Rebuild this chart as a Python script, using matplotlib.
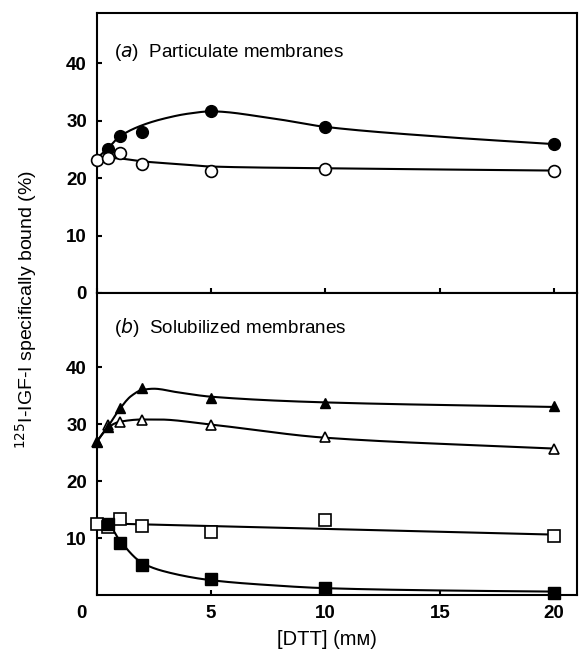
import numpy as np
import matplotlib
matplotlib.use("Agg")
import matplotlib.pyplot as plt
import matplotlib.transforms as mtransforms

plt.rcParams['font.family'] = ['Liberation Sans', 'DejaVu Sans']

# ---- data ----
# (a) particulate membranes
a_filled_x = [0.5, 1, 2, 5, 10, 20]
a_filled_y = [25.0, 27.4, 28.0, 31.6, 28.8, 25.9]
a_open_x = [0, 0.5, 1, 2, 5, 10, 20]
a_open_y = [23.2, 23.4, 24.4, 22.5, 21.3, 21.6, 21.2]

# fitted curves drawn by hand in the original (nodes)
a_filled_fit_x = [0, 0.5, 1, 2, 3, 4, 5, 7.5, 10, 15, 20]
a_filled_fit_y = [23.4, 25.2, 27.2, 29.2, 30.4, 31.2, 31.6, 30.5, 28.9, 27.2, 25.9]
a_open_fit_x = [0, 0.5, 1, 2, 4, 5, 10, 20]
a_open_fit_y = [23.3, 23.5, 23.4, 22.9, 22.3, 22.0, 21.7, 21.3]

# (b) solubilized membranes
b_tri_f_x = [0, 0.5, 1, 2, 5, 10, 20]
b_tri_f_y = [26.9, 29.5, 32.8, 36.3, 34.5, 33.7, 33.1]
b_tri_o_x = [0, 0.5, 1, 2, 5, 10, 20]
b_tri_o_y = [26.9, 29.8, 30.4, 30.7, 29.9, 27.7, 25.7]
b_sq_o_x = [0, 0.5, 1, 2, 5, 10, 20]
b_sq_o_y = [12.5, 11.9, 13.3, 12.1, 11.1, 13.2, 10.4]
b_sq_f_x = [0.5, 1, 2, 5, 10, 20]
b_sq_f_y = [12.5, 9.2, 5.3, 2.8, 1.2, 0.4]

b_tri_f_fit_x = [0, 0.5, 1, 1.5, 2, 2.5, 3.5, 5, 10, 20]
b_tri_f_fit_y = [26.9, 29.6, 32.6, 34.9, 36.0, 36.2, 35.6, 34.8, 33.8, 33.0]
b_tri_o_fit_x = [0, 0.5, 1, 2, 2.7, 5, 10, 20]
b_tri_o_fit_y = [26.9, 29.4, 30.4, 30.8, 30.8, 29.9, 27.6, 25.7]
b_sq_o_fit_x = [0, 10, 20]
b_sq_o_fit_y = [12.6, 11.6, 10.6]
b_sq_f_fit_x = [0, 0.5, 1, 2, 3, 5, 7.5, 10, 15, 20]
b_sq_f_fit_y = [12.7, 12.4, 9.6, 5.6, 4.1, 2.6, 1.75, 1.2, 0.8, 0.6]

xticks = [0, 5, 10, 15, 20]
a_yticks = [0, 10, 20, 30, 40]
b_yticks = [10, 20, 30, 40]


def smooth(xs, ys, n=300):
    """monotone cubic (pchip) through the read-off curve nodes"""
    xs, ys = np.asarray(xs, float), np.asarray(ys, float)
    h = np.diff(xs)
    d = np.diff(ys) / h
    m = np.zeros_like(ys)
    m[0], m[-1] = d[0], d[-1]
    for i in range(1, len(xs) - 1):
        if d[i - 1] * d[i] > 0:
            w1 = 2 * h[i] + h[i - 1]
            w2 = h[i] + 2 * h[i - 1]
            m[i] = (w1 + w2) / (w1 / d[i - 1] + w2 / d[i])
    xx = np.linspace(xs[0], xs[-1], n)
    k = np.clip(np.searchsorted(xs, xx) - 1, 0, len(h) - 1)
    t = (xx - xs[k]) / h[k]
    h00 = 2 * t**3 - 3 * t**2 + 1
    h10 = t**3 - 2 * t**2 + t
    h01 = -2 * t**3 + 3 * t**2
    h11 = t**3 - t**2
    yy = h00 * ys[k] + h10 * h[k] * m[k] + h01 * ys[k + 1] + h11 * h[k] * m[k + 1]
    return xx, yy


fig = plt.figure(figsize=(5.79, 6.54), dpi=100)
L, R = 0.167, 0.9965
ax_a = fig.add_axes([L, 0.552, R - L, 0.980 - 0.552])
ax_b = fig.add_axes([L, 0.0902, R - L, 0.552 - 0.0902])

lw = 1.5
ms = 8.5
tick_fs = 13.5
for ax in (ax_a, ax_b):
    ax.set_xlim(0, 21)
    for s in ax.spines.values():
        s.set_linewidth(1.5)
    ax.set_xticks(xticks)
    ax.tick_params(direction='in', length=3.5, width=1.5, labelsize=tick_fs, pad=7)

# panel (a)
ax_a.set_ylim(0, 48.7)
ax_a.set_yticks(a_yticks)
ax_a.set_yticklabels([str(v) for v in a_yticks], fontweight='bold')
ax_a.tick_params(axis='x', labelbottom=False)
ax_a.plot(*smooth(a_filled_fit_x, a_filled_fit_y), color='black', lw=lw, zorder=2)
ax_a.plot(*smooth(a_open_fit_x, a_open_fit_y), color='black', lw=lw, zorder=2)
ax_a.plot(a_filled_x, a_filled_y, 'o', ms=ms, mfc='black', mec='black', zorder=3, clip_on=False)
ax_a.plot(a_open_x, a_open_y, 'o', ms=ms, mfc='white', mec='black', mew=1.2, zorder=4, clip_on=False)
ax_a.text(0.035, 0.86, r'($\it{a}$)  Particulate membranes', transform=ax_a.transAxes,
          fontsize=13.6, va='center', ha='left')

# panel (b)
ax_b.set_ylim(0, 53)
ax_b.set_yticks(b_yticks)
ax_b.set_yticklabels([str(v) for v in b_yticks], fontweight='bold')
ax_b.set_xticklabels([str(v) for v in xticks], fontweight='bold')
# the "0" sits at the corner, left of the axis
shift = mtransforms.ScaledTranslation(-15 / 100, 0, fig.dpi_scale_trans)
first = ax_b.get_xticklabels()[0]
first.set_transform(first.get_transform() + shift)

for fx, fy in [(b_tri_f_fit_x, b_tri_f_fit_y), (b_tri_o_fit_x, b_tri_o_fit_y),
               (b_sq_o_fit_x, b_sq_o_fit_y), (b_sq_f_fit_x, b_sq_f_fit_y)]:
    ax_b.plot(*smooth(fx, fy), color='black', lw=lw, zorder=2)
ax_b.plot(b_tri_o_x, b_tri_o_y, '^', ms=7.5, mfc='white', mec='black', mew=1.2, zorder=3, clip_on=False)
ax_b.plot(b_tri_f_x, b_tri_f_y, '^', ms=7.5, mfc='black', mec='black', zorder=4, clip_on=False)
ax_b.plot(b_sq_o_x, b_sq_o_y, 's', ms=8, mfc='white', mec='black', mew=1.2, zorder=3, clip_on=False)
ax_b.plot(b_sq_f_x, b_sq_f_y, 's', ms=8, mfc='black', mec='black', zorder=4, clip_on=False)
ax_b.text(0.035, 0.885, r'($\it{b}$)  Solubilized membranes', transform=ax_b.transAxes,
          fontsize=13.6, va='center', ha='left')

fig.text(0.045, 0.526, r'$^{125}$I-IGF-I specifically bound (%)', rotation=90,
         ha='center', va='center', fontsize=14)
fig.text(0.565, 0.022, '[DTT] (m\u1d0d)', ha='center', va='center', fontsize=14.5)

fig.savefig('out.png', dpi=100)
